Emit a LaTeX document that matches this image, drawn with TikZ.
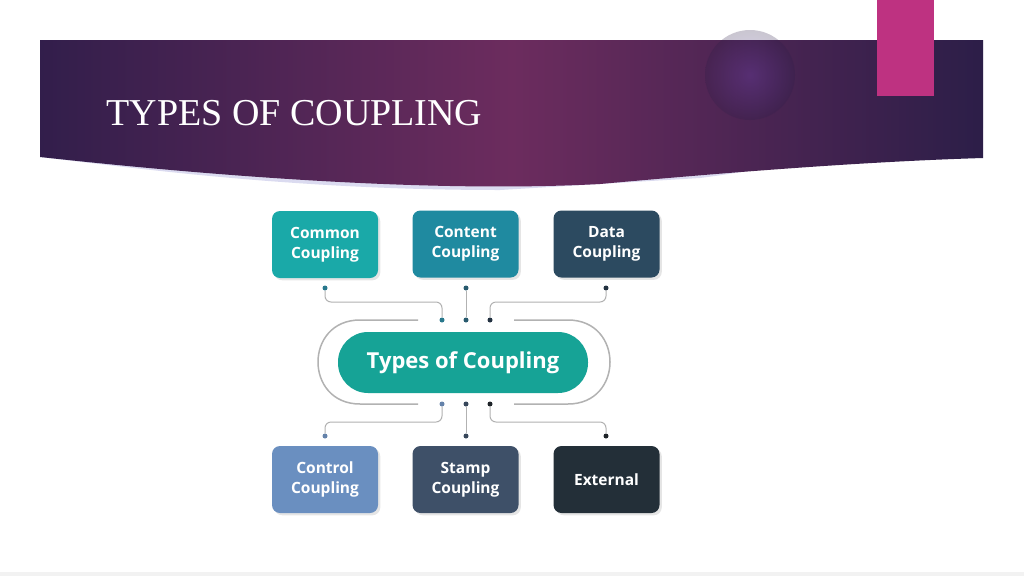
\documentclass[tikz,border=0pt]{standalone}
\usepackage{fontspec}
\usetikzlibrary{shadows}
\setmainfont{Liberation Serif}
\newfontfamily\boxfont{Open Sans}
\definecolor{hdl}{RGB}{50,30,75}
\definecolor{hdm}{RGB}{108,44,94}
\definecolor{hdr}{RGB}{44,30,72}
\begin{document}
\begin{tikzpicture}[x=1pt,y=-1pt,
  tbox/.style={rounded corners=8pt,minimum width=106pt,minimum height=67pt,text=white,font=\boxfont\bfseries\fontsize{15.5}{20}\selectfont,align=center,drop shadow={opacity=0.2}},
  con/.style={draw=gray!60,line width=1pt,rounded corners=6pt},
  dotc/.style={circle,inner sep=0pt,minimum size=5pt}]
\useasboundingbox (0,0) rectangle (1024,576);
\fill[white] (0,0) rectangle (1024,576);
\fill[gray!10] (0,572) rectangle (1024,576);
% header
\fill[gray!60!blue!20!white] (40,40) -- (983,40) -- (983,128) .. controls (900,140) and (800,165) .. (700,178) -- (500,190) .. controls (300,190) and (150,170) .. (40,157) -- cycle;
\shade[left color=hdl, right color=hdr, middle color=hdm] (40,40) -- (983,40) -- (983,158) .. controls (850,162) and (700,175) .. (600,184) .. controls (450,192) and (250,180) .. (40,157) -- cycle;
\shade[inner color=blue!50!violet!70!white, outer color=hdr, opacity=0.25] (750,75) circle (45);
\fill[magenta!75!black] (877,0) rectangle (934,96);
\node[anchor=west,text=white,font=\fontsize{38}{44}\selectfont] (title) at (103,113) {TYPES OF COUPLING};
% boxes
\node[tbox,fill={rgb,255:red,26;green,169;blue,168}] (common) at (325,244.5) {Common\\Coupling};
\node[tbox,fill={rgb,255:red,31;green,138;blue,160}] (content) at (465.5,244) {Content\\Coupling};
\node[tbox,fill={rgb,255:red,44;green,74;blue,96}] (data) at (606.5,244) {Data\\Coupling};
\node[tbox,fill={rgb,255:red,106;green,143;blue,192}] (control) at (325,479.5) {Control\\Coupling};
\node[tbox,fill={rgb,255:red,62;green,80;blue,104}] (stamp) at (465.5,479.5) {Stamp\\Coupling};
\node[tbox,fill={rgb,255:red,35;green,47;blue,56}] (external) at (606.5,479.5) {External};
% center
\draw[gray!60,line width=1.5pt] (418,320) -- (360,320) .. controls (304,320) and (304,404) .. (360,404) -- (418,404);
\draw[gray!60,line width=1.5pt] (514,320) -- (568,320) .. controls (624,320) and (624,404) .. (568,404) -- (514,404);
\node[rounded corners=30pt,minimum width=250pt,minimum height=61pt,fill={rgb,255:red,22;green,163;blue,150},text=white,font=\boxfont\bfseries\fontsize{22}{26}\selectfont] (center) at (463,362.5) {Types of Coupling};
% dots
\node[dotc,fill={rgb,255:red,40;green,120;blue,140}] (t1) at (442,320) {};
\node[dotc,fill={rgb,255:red,40;green,90;blue,110}] (t2) at (466,320) {};
\node[dotc,fill={rgb,255:red,35;green,50;blue,65}] (t3) at (490,320) {};
\node[dotc,fill={rgb,255:red,100;green,130;blue,170}] (b1) at (442,404) {};
\node[dotc,fill={rgb,255:red,55;green,70;blue,90}] (b2) at (466,404) {};
\node[dotc,fill={rgb,255:red,30;green,35;blue,40}] (b3) at (490,404) {};
\node[dotc,fill={rgb,255:red,40;green,120;blue,140}] (s1) at (325,288) {};
\node[dotc,fill={rgb,255:red,40;green,90;blue,110}] (s2) at (466,288) {};
\node[dotc,fill={rgb,255:red,35;green,50;blue,65}] (s3) at (606,288) {};
\node[dotc,fill={rgb,255:red,100;green,130;blue,170}] (e1) at (325,436) {};
\node[dotc,fill={rgb,255:red,55;green,70;blue,90}] (e2) at (466,436) {};
\node[dotc,fill={rgb,255:red,30;green,35;blue,40}] (e3) at (606,436) {};
\draw[con] (s1) |- (442,302) -- (t1);
\draw[con] (s2) -- (t2);
\draw[con] (s3) |- (490,302) -- (t3);
\draw[con] (e1) |- (442,422) -- (b1);
\draw[con] (e2) -- (b2);
\draw[con] (e3) |- (490,422) -- (b3);
\end{tikzpicture}
\end{document}
